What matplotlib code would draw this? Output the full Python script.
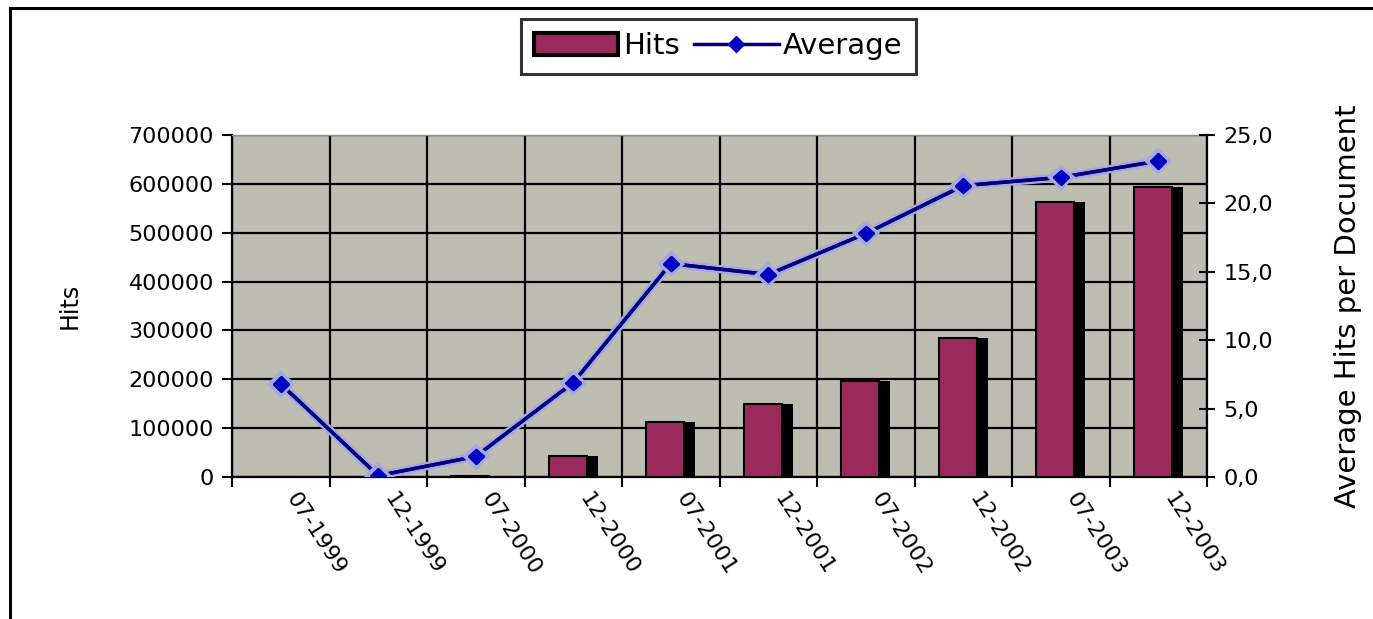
import matplotlib
matplotlib.use("Agg")
import matplotlib.pyplot as plt
import matplotlib.patheffects as pe
from matplotlib.lines import Line2D
from matplotlib.patches import Patch
from matplotlib.ticker import FuncFormatter, MultipleLocator, FixedLocator
import matplotlib.transforms as mtransforms
import numpy as np

# data
categories = ['07-1999', '12-1999', '07-2000', '12-2000', '07-2001',
              '12-2001', '07-2002', '12-2002', '07-2003', '12-2003']
hits = [300, 20, 1800, 43000, 112000, 150000, 197000, 284000, 562000, 594000]
average = [6.8, 0.1, 1.5, 6.9, 15.6, 14.8, 17.8, 21.3, 21.9, 23.1]

bar_color = '#9a2a5c'
line_color = '#000080'
marker_color = '#0000c0'
plot_bg = '#bdbdb2'

plt.rcParams['font.family'] = 'DejaVu Sans'

W, H = 1373, 619
fig = plt.figure(figsize=(W / 100, H / 100), dpi=100)
ax = fig.add_axes([232 / W, 1 - 477 / H, (1207 - 232) / W, (477 - 135) / H])
ax2 = ax.twinx()

x = np.arange(len(categories))

# bars: black "shadow" bar behind, coloured bar on top
ax.bar(x - 0.25, hits, width=0.5, align='edge', color='black', zorder=3)
ax.bar(x - 0.25, hits, width=0.39, align='edge', color=bar_color,
       edgecolor='black', linewidth=1.5, zorder=4)

ax.set_xlim(-0.5, len(categories) - 0.5)
ax.set_ylim(0, 700000)
ax.set_facecolor(plot_bg)
ax.yaxis.set_major_locator(MultipleLocator(100000))
ax.xaxis.set_major_locator(FixedLocator(np.arange(-0.5, len(categories), 1.0)))
ax.set_xticklabels([])
ax.grid(True, color='black', linewidth=1.6, zorder=1)
ax.set_axisbelow(True)
ax.tick_params(axis='y', direction='out', length=7, width=1.5, labelsize=16, pad=6)
ax.tick_params(axis='x', direction='out', length=7, width=1.5)
ax.set_ylabel('Hits', fontsize=17, labelpad=34)

for s in ['left', 'bottom']:
    ax.spines[s].set_linewidth(1.6)
ax.spines['top'].set_color('#909090')
ax.spines['top'].set_linewidth(1)
ax.spines['right'].set_visible(False)

# rotated category labels
offset = mtransforms.offset_copy(ax.get_xaxis_transform(), fig=fig, x=10, y=-18, units='dots')
for xi, lab in zip(x, categories):
    ax.text(xi, 0, lab, transform=offset, rotation=-57, rotation_mode='anchor',
            ha='left', va='center', fontsize=16)

# line on the secondary axis
ax2.plot(x, average, color=line_color, linewidth=2.5, marker='D', markersize=8,
         markerfacecolor=marker_color, markeredgecolor=marker_color, zorder=5,
         path_effects=[pe.withStroke(linewidth=6, foreground='#a8a8e0'), pe.Normal()])
ax2.set_ylim(0, 25)
ax2.yaxis.set_major_locator(MultipleLocator(5))
ax2.yaxis.set_major_formatter(FuncFormatter(lambda v, p: ('%.1f' % v).replace('.', ',')))
ax2.tick_params(axis='y', direction='inout', length=12, width=1.5, labelsize=16, pad=6)
ax2.set_ylabel('Average Hits per Document', fontsize=21, labelpad=44)
ax2.spines['right'].set_linewidth(1.6)
for s in ['left', 'top', 'bottom']:
    ax2.spines[s].set_visible(False)

# legend
handles = [Patch(facecolor=bar_color, edgecolor='black', linewidth=3),
           Line2D([], [], color=line_color, linewidth=2.5, marker='D', markersize=8,
                  markerfacecolor=marker_color, markeredgecolor=marker_color)]
leg = fig.legend(handles, ['Hits', 'Average'], loc='center', bbox_to_anchor=(0.523, 0.925),
                 ncol=2, fontsize=21, frameon=True, fancybox=False, edgecolor='black',
                 handlelength=2.9, handleheight=0.8, handletextpad=0.15, columnspacing=0.5,
                 borderpad=0.45, borderaxespad=0)
leg.get_frame().set_linewidth(2.2)

# outer chart frame (left and top edges visible)
fig.add_artist(Line2D([10 / W, 10 / W], [0, 1 - 8 / H], color='black', linewidth=2.2))
fig.add_artist(Line2D([10 / W, 1], [1 - 8 / H, 1 - 8 / H], color='black', linewidth=2.2))

fig.savefig('out.png', dpi=100)
